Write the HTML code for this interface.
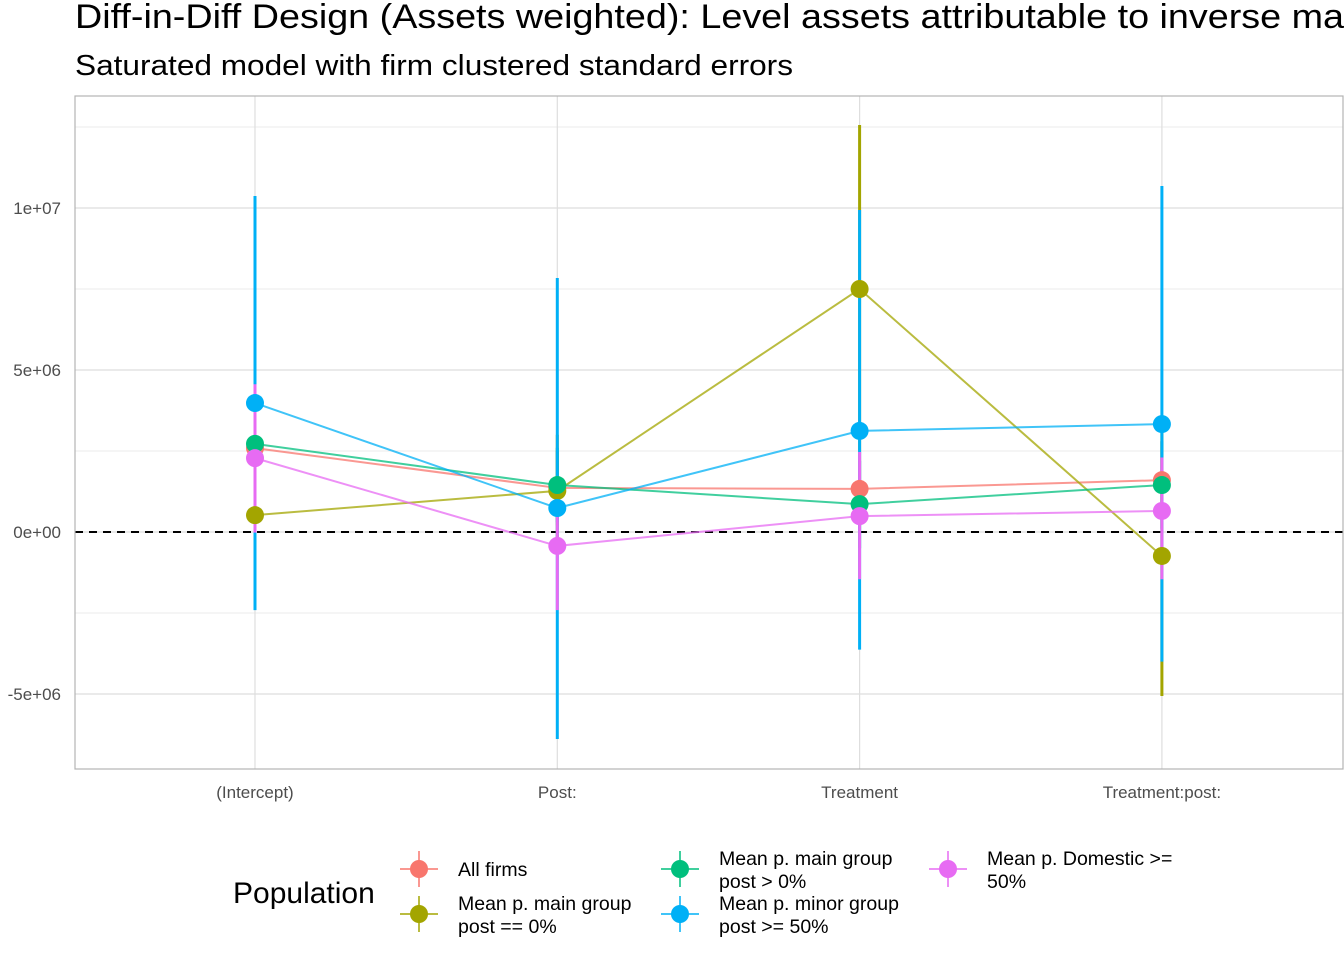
<!DOCTYPE html>
<html><head><meta charset="utf-8"><style>
html,body{margin:0;padding:0;background:#fff;}
svg{display:block;font-family:"Liberation Sans",Arial,sans-serif;}
</style></head><body>
<svg id="chart" width="1344" height="960" viewBox="0 0 1344 960">
<text x="75" y="28" font-size="34" fill="#000" textLength="1269" lengthAdjust="spacingAndGlyphs">Diff-in-Diff Design (Assets weighted): Level assets attributable to inverse ma</text>
<text x="75" y="75" font-size="29" fill="#000" textLength="718" lengthAdjust="spacingAndGlyphs">Saturated model with firm clustered standard errors</text>
<g id="grid"></g>
<g id="marks"></g>
<rect x="75" y="96" width="1268" height="673" fill="none" stroke="#b3b3b3" stroke-width="1.2"/>
<g id="axes"></g>
<g id="legend">
<text x="233" y="903" font-size="30" fill="#000">Population</text>
</g>
</svg>
<script>
const categories = ["(Intercept)", "Post:", "Treatment", "Treatment:post:"];
const seriesNames = ["All firms", "Mean p. main group post == 0%", "Mean p. main group post > 0%", "Mean p. minor group post >= 50%", "Mean p. Domestic >= 50%"];
const colors = ["#F8766D", "#A3A500", "#00BF7D", "#00B0F6", "#E76BF3"];
const allFirms = [2.59, 1.36, 1.33, 1.6];
const allFirmsLo = [1.2, 0.2, 0.2, 0.4];
const allFirmsHi = [4.0, 2.5, 2.5, 2.8];
const mainZero = [0.52, 1.27, 7.5, -0.74];
const mainZeroLo = [-1.5, -0.5, 2.5, -5.06];
const mainZeroHi = [2.5, 3.0, 12.56, 3.6];
const mainPos = [2.72, 1.45, 0.86, 1.45];
const mainPosLo = [1.4, 0.3, -0.5, 0.1];
const mainPosHi = [4.0, 2.6, 2.2, 2.8];
const minor50 = [3.98, 0.74, 3.12, 3.33];
const minor50Lo = [-2.41, -6.39, -3.63, -4.0];
const minor50Hi = [10.37, 7.84, 9.94, 10.68];
const domestic50 = [2.28, -0.43, 0.49, 0.65];
const domestic50Lo = [-0.02, -2.41, -1.46, -1.46];
const domestic50Hi = [4.56, 1.49, 2.47, 2.3];
const yTicks = [-5, 0, 5, 10];
const yTickLabels = ["-5e+06", "0e+00", "5e+06", "1e+07"];
const yMinor = [-2.5, 2.5, 7.5, 12.5];

const NS = "http://www.w3.org/2000/svg";
const X0 = 255, XSTEP = 302.3;
function xPos(i){ return X0 + i * XSTEP; }
function yPos(v){ return 532 - v * 32.4; }
function mk(tag, attrs, parent){ const e = document.createElementNS(NS, tag); for (const k in attrs) e.setAttribute(k, attrs[k]); parent.appendChild(e); return e; }

const grid = document.getElementById('grid');
const marks = document.getElementById('marks');
const axes = document.getElementById('axes');
const legend = document.getElementById('legend');

yMinor.forEach(v => {
  const l = mk('line', {x1:75, x2:1343, y1:yPos(v), y2:yPos(v), stroke:'#ebebeb', 'stroke-width':1}, grid);
  
  
});
yTicks.forEach((v, i) => {
  const l = mk('line', {x1:75, x2:1343, y1:yPos(v), y2:yPos(v), stroke:'#dedede', 'stroke-width':1.2}, grid);
  
  
  const t = mk('text', {x:61, y:yPos(v) + 6, 'font-size':17, fill:'#4d4d4d', 'text-anchor':'end'}, axes);
  t.textContent = yTickLabels[i];
  
  
});
categories.forEach((c, i) => {
  const l = mk('line', {x1:xPos(i), x2:xPos(i), y1:96, y2:769, stroke:'#dedede', 'stroke-width':1.2}, grid);
  
  
  const t = mk('text', {x:xPos(i), y:798, 'font-size':17, fill:'#4d4d4d', 'text-anchor':'middle'}, axes);
  t.textContent = c;
  
  
});
const zl = mk('line', {x1:75, x2:1343, y1:yPos(0), y2:yPos(0), stroke:'#000', 'stroke-width':2, 'stroke-dasharray':'8,6'}, grid);



const vals = [allFirms, mainZero, mainPos, minor50, domestic50];
const los = [allFirmsLo, mainZeroLo, mainPosLo, minor50Lo, domestic50Lo];
const his = [allFirmsHi, mainZeroHi, mainPosHi, minor50Hi, domestic50Hi];

vals.forEach((s, k) => {
  const pts = s.map((v, i) => xPos(i) + ',' + yPos(v)).join(' ');
  const pl = mk('polyline', {points:pts, fill:'none', stroke:colors[k], 'stroke-width':2, 'stroke-opacity':0.75}, marks);
  
  
});
vals.forEach((s, k) => {
  s.forEach((v, i) => {
    const e = mk('line', {x1:xPos(i), x2:xPos(i), y1:yPos(his[k][i]), y2:yPos(los[k][i]), stroke:colors[k], 'stroke-width':3}, marks);
    
    
  });
});
vals.forEach((s, k) => {
  s.forEach((v, i) => {
    const c = mk('circle', {cx:xPos(i), cy:yPos(v), r:9, fill:colors[k]}, marks);
    
    
  });
});

const legPos = [[419,869],[419,914],[680,869],[680,914],[948,869]];
const legLines = [["All firms"],["Mean p. main group","post == 0%"],["Mean p. main group","post > 0%"],["Mean p. minor group","post >= 50%"],["Mean p. Domestic >=","50%"]];
legPos.forEach((p, k) => {
  const g = mk('g', {}, legend);
  
  
  mk('line', {x1:p[0]-19, x2:p[0]+19, y1:p[1], y2:p[1], stroke:colors[k], 'stroke-width':1.5}, g);
  mk('line', {x1:p[0], x2:p[0], y1:p[1]-18, y2:p[1]+18, stroke:colors[k], 'stroke-width':1.5}, g);
  mk('circle', {cx:p[0], cy:p[1], r:9, fill:colors[k]}, g);
  const lines = legLines[k];
  lines.forEach((ln, j) => {
    const y = lines.length === 1 ? p[1] + 7 : p[1] - 4 + j * 23;
    const t = mk('text', {x:p[0] + 39, y:y, 'font-size':19.5, fill:'#000'}, g);
    t.textContent = ln;
  });
});
</script>
</body></html>
